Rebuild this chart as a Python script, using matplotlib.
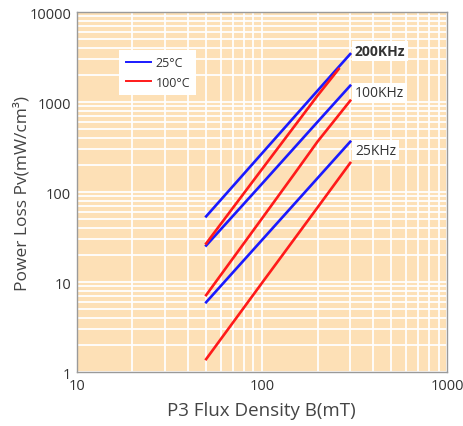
import matplotlib
matplotlib.use("Agg")
import matplotlib.pyplot as plt
from matplotlib.ticker import LogLocator, NullFormatter, FixedLocator

plt.rcParams['font.family'] = ['Open Sans', 'DejaVu Sans']

# Flux density (mT) and core loss (mW/cm^3) for P3 material
b_25k = [50, 100, 200, 300]
pv_25k_25c = [6.0, 29.4, 144, 365]
pv_25k_100c = [1.4, 9.8, 68, 212]

b_100k_25c = [50, 100, 200, 300]
pv_100k_25c = [25.6, 124, 607, 1531]
b_100k_100c = [50, 100, 150, 200, 300]
pv_100k_100c = [7.2, 51, 161, 367, 1042]

b_200k_25c = [50, 100, 200, 300]
pv_200k_25c = [54, 270, 1350, 3440]
b_200k_100c = [50, 100, 200, 260]
pv_200k_100c = [27, 180, 1190, 2345]

freq_labels = ["200KHz", "100KHz", "25KHz"]
freq_label_y = [3700, 1270, 295]
legend_labels = ["25°C", "100°C"]

blue = "#1a1aff"
red = "#ff1a1a"

fig = plt.figure(figsize=(4.63, 4.27), dpi=100)
ax = fig.add_axes([0.1657, 0.1258, 0.7998, 0.843])
ax.set_facecolor("#fde0b6")

ax.set_xscale("log")
ax.set_yscale("log")
ax.set_xlim(10, 1000)
ax.set_ylim(1, 10000)

ax.xaxis.set_major_locator(FixedLocator([10, 100, 1000]))
ax.yaxis.set_major_locator(FixedLocator([1, 10, 100, 1000, 10000]))
ax.xaxis.set_minor_locator(LogLocator(base=10, subs=range(2, 10)))
ax.yaxis.set_minor_locator(LogLocator(base=10, subs=range(2, 10)))
ax.xaxis.set_minor_formatter(NullFormatter())
ax.yaxis.set_minor_formatter(NullFormatter())
ax.set_xticklabels(["10", "100", "1000"])
ax.set_yticklabels(["1", "10", "100", "1000", "10000"])

ax.grid(True, which="both", color="white", linewidth=1.3)
ax.set_axisbelow(True)
ax.tick_params(which="both", length=0, labelsize=10.5, labelcolor="#333333", pad=4)
for s in ax.spines.values():
    s.set_color("#9a9a9a")
    s.set_linewidth(1.0)

lw = 1.9
l1, = ax.plot(b_200k_25c, pv_200k_25c, color=blue, lw=lw)
ax.plot(b_100k_25c, pv_100k_25c, color=blue, lw=lw)
ax.plot(b_25k, pv_25k_25c, color=blue, lw=lw)
l2, = ax.plot(b_200k_100c, pv_200k_100c, color=red, lw=lw)
ax.plot(b_100k_100c, pv_100k_100c, color=red, lw=lw)
ax.plot(b_25k, pv_25k_100c, color=red, lw=lw)

for i, (lab, yv) in enumerate(zip(freq_labels, freq_label_y)):
    ax.text(318, yv, lab, fontsize=10, color="#333333",
            fontweight="bold" if i == 0 else "normal",
            ha="left", va="center",
            bbox=dict(facecolor="white", edgecolor="none", pad=2))

leg = ax.legend([l1, l2], legend_labels, loc="upper left",
                bbox_to_anchor=(0.115, 0.895), fontsize=9,
                frameon=True, fancybox=False, handlelength=2.0,
                handletextpad=0.4, borderpad=0.5, labelspacing=0.5,
                borderaxespad=0)
leg.get_frame().set_facecolor("white")
leg.get_frame().set_edgecolor("none")
leg.get_frame().set_alpha(1)
for line in leg.get_lines():
    line.set_linewidth(1.4)
for t in leg.get_texts():
    t.set_color("#333333")

ax.set_xlabel("P3 Flux Density B(mT)", fontsize=13.5, color="#444444", labelpad=6)
ax.set_ylabel("Power Loss Pv(mW/cm³)", fontsize=12.5, color="#444444")
ax.yaxis.set_label_coords(-0.125, 0.5)

fig.savefig("out.png", dpi=100, facecolor="white")
